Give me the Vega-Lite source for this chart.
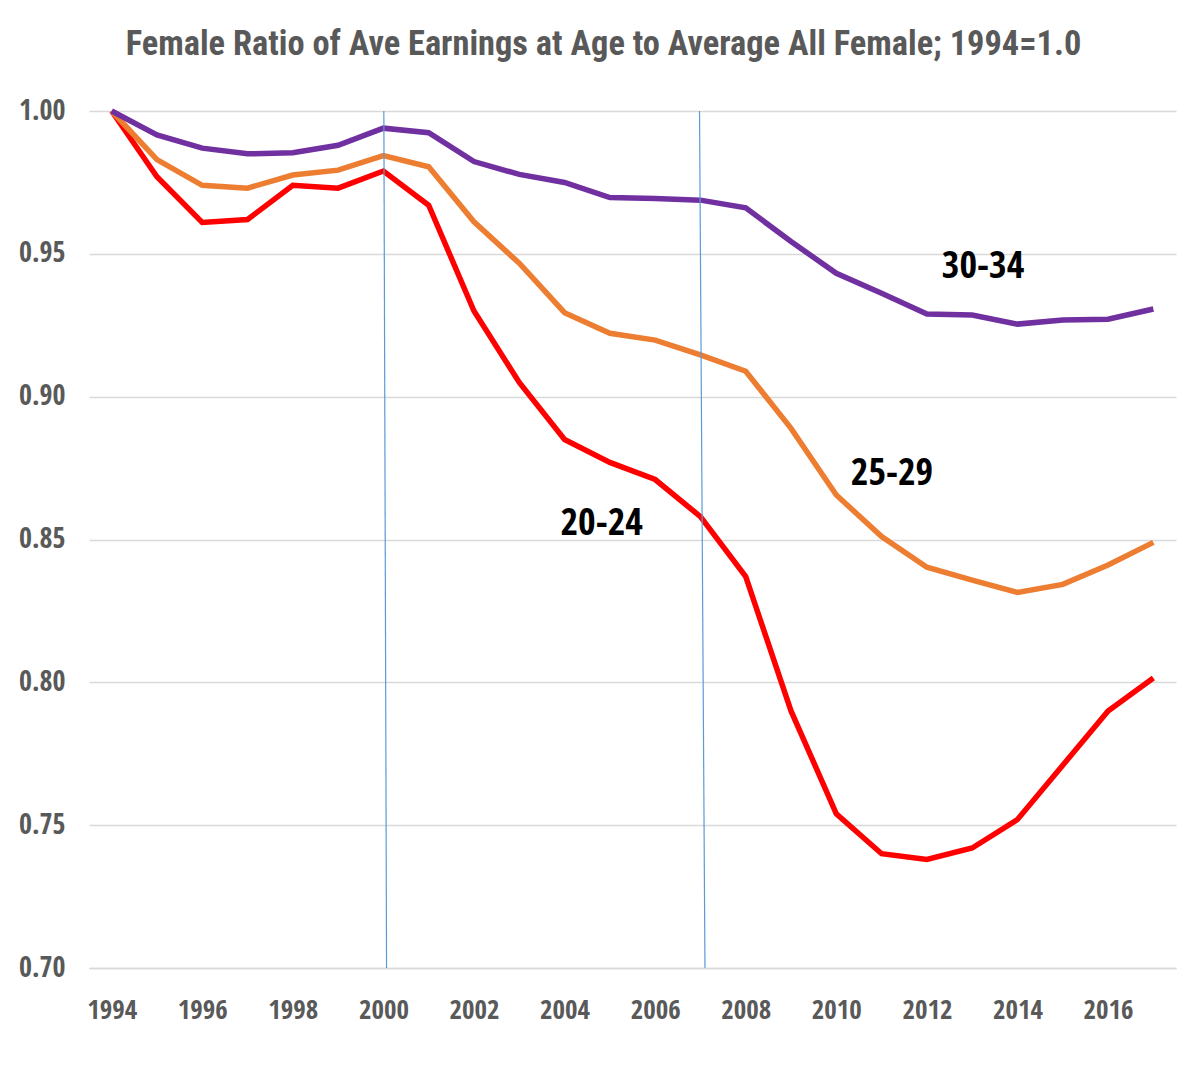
{
  "$schema": "https://vega.github.io/schema/vega-lite/v6.json",
  "width": 1087,
  "height": 857,
  "autosize": {"type": "none"},
  "padding": {"left": 89, "top": 111, "right": 27, "bottom": 99},
  "background": "white",
  "config": {"view": {"stroke": null}},
  "title": {
    "text": "Female Ratio of Ave Earnings at Age to Average All Female; 1994=1.0",
    "font": "'Roboto Condensed', 'Open Sans Condensed', sans-serif",
    "fontSize": 34.4,
    "fontWeight": "bold",
    "color": "#595959",
    "dx": -29,
    "offset": 35
  },
  "datasets": {
    "series": [
      {"year": 1994, "age": "20-24", "ratio": 1.000},
      {"year": 1995, "age": "20-24", "ratio": 0.977},
      {"year": 1996, "age": "20-24", "ratio": 0.961},
      {"year": 1997, "age": "20-24", "ratio": 0.962},
      {"year": 1998, "age": "20-24", "ratio": 0.974},
      {"year": 1999, "age": "20-24", "ratio": 0.973},
      {"year": 2000, "age": "20-24", "ratio": 0.979},
      {"year": 2001, "age": "20-24", "ratio": 0.967},
      {"year": 2002, "age": "20-24", "ratio": 0.930},
      {"year": 2003, "age": "20-24", "ratio": 0.905},
      {"year": 2004, "age": "20-24", "ratio": 0.885},
      {"year": 2005, "age": "20-24", "ratio": 0.877},
      {"year": 2006, "age": "20-24", "ratio": 0.871},
      {"year": 2007, "age": "20-24", "ratio": 0.858},
      {"year": 2008, "age": "20-24", "ratio": 0.837},
      {"year": 2009, "age": "20-24", "ratio": 0.790},
      {"year": 2010, "age": "20-24", "ratio": 0.754},
      {"year": 2011, "age": "20-24", "ratio": 0.740},
      {"year": 2012, "age": "20-24", "ratio": 0.738},
      {"year": 2013, "age": "20-24", "ratio": 0.742},
      {"year": 2014, "age": "20-24", "ratio": 0.752},
      {"year": 2015, "age": "20-24", "ratio": 0.771},
      {"year": 2016, "age": "20-24", "ratio": 0.790},
      {"year": 2017, "age": "20-24", "ratio": 0.8015},
      {"year": 1994, "age": "25-29", "ratio": 1.000},
      {"year": 1995, "age": "25-29", "ratio": 0.983},
      {"year": 1996, "age": "25-29", "ratio": 0.974},
      {"year": 1997, "age": "25-29", "ratio": 0.973},
      {"year": 1998, "age": "25-29", "ratio": 0.9776},
      {"year": 1999, "age": "25-29", "ratio": 0.9793},
      {"year": 2000, "age": "25-29", "ratio": 0.9844},
      {"year": 2001, "age": "25-29", "ratio": 0.9805},
      {"year": 2002, "age": "25-29", "ratio": 0.9612},
      {"year": 2003, "age": "25-29", "ratio": 0.9467},
      {"year": 2004, "age": "25-29", "ratio": 0.9294},
      {"year": 2005, "age": "25-29", "ratio": 0.9222},
      {"year": 2006, "age": "25-29", "ratio": 0.9198},
      {"year": 2007, "age": "25-29", "ratio": 0.9146},
      {"year": 2008, "age": "25-29", "ratio": 0.9089},
      {"year": 2009, "age": "25-29", "ratio": 0.8889},
      {"year": 2010, "age": "25-29", "ratio": 0.8656},
      {"year": 2011, "age": "25-29", "ratio": 0.851},
      {"year": 2012, "age": "25-29", "ratio": 0.8403},
      {"year": 2013, "age": "25-29", "ratio": 0.8358},
      {"year": 2014, "age": "25-29", "ratio": 0.8315},
      {"year": 2015, "age": "25-29", "ratio": 0.8343},
      {"year": 2016, "age": "25-29", "ratio": 0.8411},
      {"year": 2017, "age": "25-29", "ratio": 0.849},
      {"year": 1994, "age": "30-34", "ratio": 1.000},
      {"year": 1995, "age": "30-34", "ratio": 0.9916},
      {"year": 1996, "age": "30-34", "ratio": 0.987},
      {"year": 1997, "age": "30-34", "ratio": 0.985},
      {"year": 1998, "age": "30-34", "ratio": 0.9854},
      {"year": 1999, "age": "30-34", "ratio": 0.988},
      {"year": 2000, "age": "30-34", "ratio": 0.994},
      {"year": 2001, "age": "30-34", "ratio": 0.9924},
      {"year": 2002, "age": "30-34", "ratio": 0.9823},
      {"year": 2003, "age": "30-34", "ratio": 0.9778},
      {"year": 2004, "age": "30-34", "ratio": 0.975},
      {"year": 2005, "age": "30-34", "ratio": 0.9697},
      {"year": 2006, "age": "30-34", "ratio": 0.9694},
      {"year": 2007, "age": "30-34", "ratio": 0.9688},
      {"year": 2008, "age": "30-34", "ratio": 0.9661},
      {"year": 2009, "age": "30-34", "ratio": 0.9543},
      {"year": 2010, "age": "30-34", "ratio": 0.9432},
      {"year": 2011, "age": "30-34", "ratio": 0.9362},
      {"year": 2012, "age": "30-34", "ratio": 0.9289},
      {"year": 2013, "age": "30-34", "ratio": 0.9286},
      {"year": 2014, "age": "30-34", "ratio": 0.9254},
      {"year": 2015, "age": "30-34", "ratio": 0.9268},
      {"year": 2016, "age": "30-34", "ratio": 0.9271},
      {"year": 2017, "age": "30-34", "ratio": 0.9307}
    ],
    "markers": [
      {"top": 2000.01, "bottom": 2000.07, "hi": 1.0, "lo": 0.70},
      {"top": 2006.98, "bottom": 2007.10, "hi": 1.0, "lo": 0.70}
    ],
    "labels": [
      {"label": "30-34", "year": 2013.24, "ratio": 0.9414},
      {"label": "25-29", "year": 2011.23, "ratio": 0.8691},
      {"label": "20-24", "year": 2004.82, "ratio": 0.8516}
    ]
  },
  "layer": [
    {
      "data": {"name": "series"},
      "mark": {"type": "line", "strokeWidth": 5.5},
      "encoding": {
        "x": {
          "field": "year",
          "type": "quantitative",
          "scale": {"domain": [1993.5, 2017.5], "nice": false, "zero": false},
          "axis": {
            "title": null,
            "values": [1994, 1996, 1998, 2000, 2002, 2004, 2006, 2008, 2010, 2012, 2014, 2016],
            "format": "d",
            "labelFont": "'Open Sans Condensed', 'Roboto Condensed', sans-serif",
            "labelFontSize": 27,
            "labelFontWeight": "bold",
            "labelColor": "#595959",
            "labelPadding": 29,
            "ticks": false,
            "grid": false,
            "domain": true,
            "domainColor": "#D9D9D9",
            "domainWidth": 1.5
          }
        },
        "y": {
          "field": "ratio",
          "type": "quantitative",
          "scale": {"domain": [0.70, 1.00], "nice": false, "zero": false},
          "axis": {
            "title": null,
            "values": [0.70, 0.75, 0.80, 0.85, 0.90, 0.95, 1.00],
            "format": ".2f",
            "labelFont": "'Open Sans Condensed', 'Roboto Condensed', sans-serif",
            "labelFontSize": 28,
            "labelFontWeight": "bold",
            "labelColor": "#595959",
            "labelPadding": 24,
            "ticks": false,
            "domain": false,
            "grid": true,
            "gridColor": "#D9D9D9",
            "gridWidth": 1.5
          }
        },
        "color": {
          "field": "age",
          "type": "nominal",
          "scale": {"domain": ["20-24", "25-29", "30-34"], "range": ["#FF0000", "#ED7D31", "#7030A0"]},
          "legend": null
        },
        "order": {"field": "year", "type": "quantitative"}
      }
    },
    {
      "data": {"name": "markers"},
      "mark": {"type": "rule", "color": "#5B9BD5", "strokeWidth": 1.2},
      "encoding": {
        "x": {"field": "top", "type": "quantitative"},
        "x2": {"field": "bottom"},
        "y": {"field": "hi", "type": "quantitative"},
        "y2": {"field": "lo"}
      }
    },
    {
      "data": {"name": "labels"},
      "mark": {"type": "text", "font": "'Open Sans Condensed', 'Roboto Condensed', sans-serif", "fontSize": 38, "fontWeight": "bold", "color": "#000000", "align": "center", "baseline": "alphabetic"},
      "encoding": {
        "x": {"field": "year", "type": "quantitative"},
        "y": {"field": "ratio", "type": "quantitative"},
        "text": {"field": "label", "type": "nominal"}
      }
    }
  ]
}
